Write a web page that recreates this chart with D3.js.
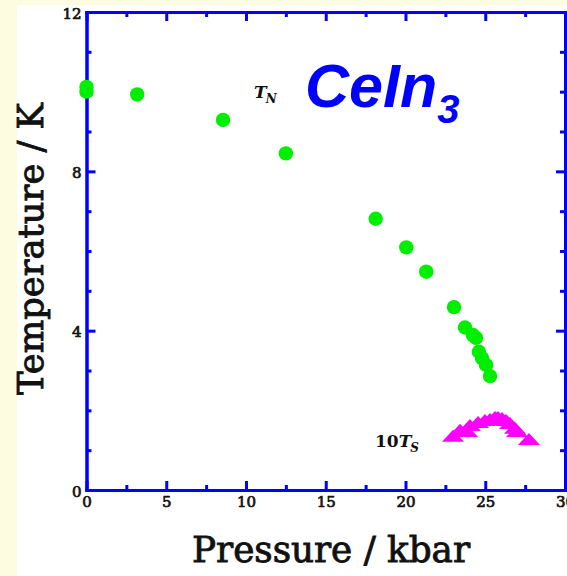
<!DOCTYPE html>
<html>
<head>
<meta charset="utf-8">
<script src="https://cdn.jsdelivr.net/npm/d3@7"></script>
<style>
  html, body { margin: 0; padding: 0; background: #fdfce0; }
  svg { display: block; }
</style>
</head>
<body>
<script>
// Néel temperature T_N of CeIn3 versus pressure
const tnPressure = [0, 0, 3.18, 8.56, 12.5, 18.13, 20.05, 21.3, 23.04, 23.73, 24.23, 24.42, 24.6, 24.8, 25.05, 25.3];
const tnTemp     = [10.12, 10.0, 9.93, 9.29, 8.45, 6.81, 6.09, 5.48, 4.59, 4.08, 3.89, 3.82, 3.47, 3.31, 3.14, 2.86];

// Superconducting transition, plotted as 10 x T_S
const tsPressure = [22.98, 23.42, 23.86, 24.04, 24.55, 24.98, 25.3, 25.61, 25.8, 26.05, 26.3, 26.55, 26.86, 26.99, 27.74];
const tsTemp10   = [1.31, 1.46, 1.43, 1.58, 1.66, 1.71, 1.73, 1.78, 1.78, 1.76, 1.71, 1.63, 1.51, 1.43, 1.23];

const xMajorTicks = [0, 5, 10, 15, 20, 25, 30];
const xMinorTicks = [2.5, 7.5, 12.5, 17.5, 22.5, 27.5];
const yMajorTicks = [0, 4, 8, 12];
const yMinorTicks = [1, 2, 3, 5, 6, 7, 9, 10, 11];

const W = 567, H = 576;
const BLUE = "#0000ff", GREEN = "#00ee00", MAGENTA = "#ff00ff", INK = "#111111";

const svg = d3.select("body").append("svg").attr("width", W).attr("height", H);

svg.append("rect").attr("width", W).attr("height", H).attr("fill", "#fdfce0");
svg.append("rect").attr("x", 17).attr("y", 5).attr("width", W - 17).attr("height", H - 5).attr("fill", "#ffffff");

const x = d3.scaleLinear().domain([0, 30]).range([86.5, 565]);
const y = d3.scaleLinear().domain([0, 12]).range([490, 12]);

const serif = "DejaVu Serif";

function styleAxis(g) {
  g.select(".domain").attr("stroke", BLUE).attr("stroke-width", 3).attr("stroke-linecap", "square");
  g.selectAll(".tick line").attr("stroke", BLUE).attr("stroke-width", 3);
  g.selectAll(".tick text").attr("fill", INK).attr("font-family", serif)
    .attr("font-weight", "normal").attr("font-size", 15)
    .attr("stroke", INK).attr("stroke-width", 0.7);
}

// minor ticks (drawn first, underneath)
svg.append("g").attr("transform", `translate(0,${y(0)})`)
  .call(d3.axisBottom(x).tickValues(xMinorTicks).tickSize(-5).tickSizeOuter(0).tickFormat(""))
  .call(styleAxis);
svg.append("g").attr("transform", `translate(0,${y(12)})`)
  .call(d3.axisTop(x).tickValues(xMinorTicks).tickSize(-5).tickSizeOuter(0).tickFormat(""))
  .call(styleAxis);
svg.append("g").attr("transform", `translate(${x(0)},0)`)
  .call(d3.axisLeft(y).tickValues(yMinorTicks).tickSize(-5).tickSizeOuter(0).tickFormat(""))
  .call(styleAxis);
svg.append("g").attr("transform", `translate(${x(30)},0)`)
  .call(d3.axisRight(y).tickValues(yMinorTicks).tickSize(-5).tickSizeOuter(0).tickFormat(""))
  .call(styleAxis);

// major ticks and labels
svg.append("g").attr("transform", `translate(0,${y(0)})`)
  .call(d3.axisBottom(x).tickValues(xMajorTicks).tickSize(-9).tickSizeOuter(0).tickPadding(6).tickFormat(d3.format("d")))
  .call(styleAxis);
svg.append("g").attr("transform", `translate(0,${y(12)})`)
  .call(d3.axisTop(x).tickValues(xMajorTicks).tickSize(-9).tickSizeOuter(0).tickFormat(""))
  .call(styleAxis);
svg.append("g").attr("transform", `translate(${x(0)},0)`)
  .call(d3.axisLeft(y).tickValues(yMajorTicks).tickSize(-9).tickSizeOuter(0).tickPadding(5).tickFormat(d3.format("d")))
  .call(styleAxis)
  .call(g => g.selectAll(".tick text").attr("dy", "0.42em"));
svg.append("g").attr("transform", `translate(${x(30)},0)`)
  .call(d3.axisRight(y).tickValues(yMajorTicks).tickSize(-9).tickSizeOuter(0).tickFormat(""))
  .call(styleAxis);

// axis titles, sized to their span
function fitText(sel, target) {
  sel.attr("font-size", 100);
  const w = sel.node().getComputedTextLength();
  sel.attr("font-size", 100 * target / w);
}
const xTitle = svg.append("text")
  .attr("x", 331).attr("y", 562)
  .attr("text-anchor", "middle")
  .attr("font-family", serif).attr("fill", INK)
  .attr("stroke", INK).attr("stroke-width", 0.9)
  .text("Pressure / kbar");
fitText(xTitle, 278);

const yTitle = svg.append("text")
  .attr("transform", "translate(43,249) rotate(-90)")
  .attr("text-anchor", "middle")
  .attr("font-family", serif).attr("fill", INK)
  .attr("stroke", INK).attr("stroke-width", 0.9)
  .text("Temperature / K");
fitText(yTitle, 292);

// T_N points
const tn = tnPressure.map((p, i) => ({ p, t: tnTemp[i] }));
svg.append("g").selectAll("circle").data(tn).join("circle")
  .attr("cx", d => x(d.p)).attr("cy", d => y(d.t)).attr("r", 7.2)
  .attr("fill", GREEN);

// 10 T_S points as flat triangles
const tri = "M0,-8L11,4L-11,4Z";
const ts = tsPressure.map((p, i) => ({ p, t: tsTemp10[i] }));
svg.append("g").selectAll("path").data(ts).join("path")
  .attr("d", tri)
  .attr("transform", d => `translate(${x(d.p)},${y(d.t)})`)
  .attr("fill", MAGENTA);

// curve labels
const tnLabel = svg.append("text").attr("x", 254).attr("y", 98)
  .attr("font-family", serif).attr("font-weight", "bold").attr("font-style", "italic")
  .attr("fill", INK).attr("font-size", 17);
tnLabel.append("tspan").text("T");
tnLabel.append("tspan").attr("font-size", 12).attr("dy", 5).attr("dx", -1).text("N");

const tsLabel = svg.append("text").attr("x", 375).attr("y", 447)
  .attr("font-family", serif).attr("font-weight", "bold")
  .attr("fill", INK).attr("font-size", 17);
tsLabel.append("tspan").text("10");
tsLabel.append("tspan").attr("font-style", "italic").text("T");
tsLabel.append("tspan").attr("font-style", "italic").attr("font-size", 12).attr("dy", 5).attr("dx", -1).text("S");

// compound name
const title = svg.append("text").attr("x", 305).attr("y", 107)
  .attr("font-family", "Liberation Sans").attr("font-weight", "bold").attr("font-style", "italic")
  .attr("fill", BLUE).attr("font-size", 61);
title.append("tspan").text("CeIn");
title.append("tspan").attr("font-size", 40).attr("dy", 16).text("3");
</script>
</body>
</html>
